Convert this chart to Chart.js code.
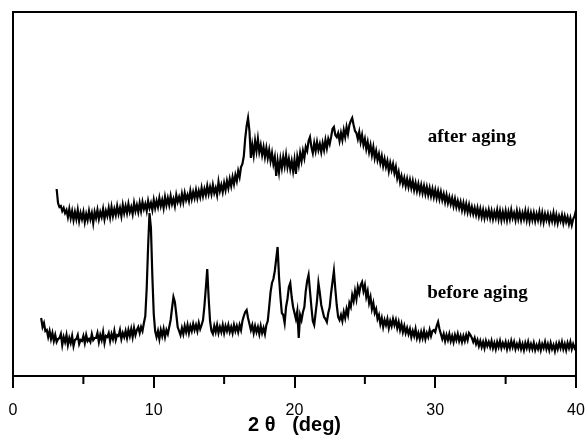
<!DOCTYPE html>
<html>
<head>
<meta charset="utf-8">
<script src="https://cdn.jsdelivr.net/npm/chart.js@4/dist/chart.umd.min.js"></script>
<style>
  html, body { margin: 0; padding: 0; background: #fff; }
  #wrap { width: 587px; height: 439px; }
</style>
</head>
<body>
<div id="wrap"><canvas id="chart"></canvas></div>
<script>
// 2 theta scan grid (deg)
var STEP = 0.1;
var beforeStart = 2.0;
var afterStart = 3.1;

// intensity (a.u.), one value per 0.1 deg
var beforeAging = [
  58, 49, 53, 45, 46, 39, 45, 37, 43, 35,   // 2.0
  41, 34, 37, 38, 42, 31, 39, 34, 41, 31,   // 3.0
  38, 33, 40, 30, 36, 37, 41, 32, 36, 35,   // 4.0
  40, 33, 41, 35, 37, 34, 42, 36, 38, 38,   // 5.0
  43, 34, 41, 36, 44, 33, 40, 39, 43, 35,   // 6.0
  42, 37, 45, 36, 41, 40, 46, 37, 43, 39,   // 7.0
  45, 38, 46, 40, 47, 39, 48, 41, 46, 49,   // 8.0
  43, 49, 45, 53, 60, 88, 130, 163, 148, 100, // 9.0
  62, 45, 39, 45, 37, 46, 40, 47, 39, 46,   // 10.0
  42, 49, 56, 68, 79, 74, 62, 49, 45, 41,   // 11.0
  48, 42, 50, 44, 51, 43, 50, 45, 52, 46,   // 12.0
  51, 45, 53, 47, 51, 56, 70, 88, 107, 78,  // 13.0
  55, 45, 42, 50, 44, 51, 43, 49, 44, 51,   // 14.0
  43, 50, 45, 51, 44, 49, 43, 51, 45, 50,   // 15.0
  44, 51, 46, 55, 60, 64, 66, 58, 52, 46,   // 16.0
  51, 43, 50, 44, 49, 42, 50, 43, 48, 42,   // 17.0
  51, 55, 69, 84, 93, 97, 105, 117, 129, 99, // 18.0
  79, 63, 61, 53, 69, 77, 89, 93, 79, 69,   // 19.0
  63, 57, 65, 38, 61, 56, 64, 69, 85, 95,   // 20.0
  101, 85, 69, 55, 51, 63, 75, 93, 83, 71,  // 21.0
  65, 59, 57, 54, 63, 69, 83, 94, 105, 87,  // 22.0
  71, 59, 56, 61, 55, 64, 58, 67, 61, 73,   // 23.0
  69, 81, 75, 85, 77, 89, 83, 91, 94, 85,   // 24.0
  91, 79, 85, 73, 79, 67, 73, 63, 67, 57,   // 25.0
  61, 52, 58, 49, 56, 51, 57, 48, 55, 50,   // 26.0
  57, 51, 56, 48, 54, 46, 52, 44, 50, 43,   // 27.0
  48, 42, 47, 39, 45, 40, 47, 38, 43, 37,   // 28.0
  44, 38, 45, 37, 43, 39, 46, 40, 45, 46,   // 29.0
  44, 50, 54, 47, 42, 37, 42, 35, 41, 36,   // 30.0
  42, 35, 40, 34, 41, 36, 42, 35, 40, 34,   // 31.0
  40, 35, 41, 36, 43, 41, 38, 34, 38, 32,   // 32.0
  36, 30, 35, 29, 34, 28, 35, 30, 34, 29,   // 33.0
  35, 28, 33, 27, 34, 29, 35, 28, 33, 29,   // 34.0
  34, 27, 33, 28, 35, 29, 34, 27, 32, 28,   // 35.0
  34, 27, 32, 26, 33, 28, 34, 27, 32, 27,   // 36.0
  33, 26, 31, 27, 33, 26, 32, 28, 34, 27,   // 37.0
  32, 26, 33, 27, 31, 25, 32, 27, 33, 28,   // 38.0
  34, 27, 32, 26, 33, 28, 34, 27, 32, 28,   // 39.0
  31                                        // 40.0
];

var afterAging = [
  187, 173, 169, 170, 165, 168, 163, 166, 159,        // 3.1
  167, 158, 165, 156, 164, 157, 166, 155, 163, 157,   // 4.0
  164, 154, 162, 156, 165, 157, 163, 153, 164, 158,   // 5.0
  166, 157, 164, 159, 167, 157, 165, 160, 168, 159,   // 6.0
  169, 160, 167, 161, 170, 162, 168, 160, 171, 163,   // 7.0
  170, 163, 172, 164, 169, 162, 173, 165, 171, 164,   // 8.0
  173, 165, 174, 167, 172, 165, 175, 168, 173, 166,   // 9.0
  176, 168, 175, 169, 178, 170, 176, 168, 179, 171,   // 10.0
  178, 171, 180, 172, 177, 170, 181, 174, 179, 173,   // 11.0
  182, 174, 183, 176, 181, 175, 185, 177, 184, 178,   // 12.0
  186, 178, 185, 179, 188, 180, 187, 181, 190, 182,   // 13.0
  189, 182, 191, 183, 188, 181, 194, 185, 191, 184,   // 14.0
  193, 186, 195, 188, 197, 190, 199, 192, 201, 195,   // 15.0
  205, 199, 209, 212, 220, 238, 250, 258, 245, 218,   // 16.0
  231, 221, 235, 225, 237, 224, 231, 221, 229, 219,   // 17.0
  228, 218, 226, 215, 223, 212, 219, 200, 215, 204,   // 18.0
  217, 208, 219, 210, 221, 209, 217, 207, 215, 205,   // 19.0
  216, 202, 219, 211, 223, 215, 225, 218, 229, 225,   // 20.0
  235, 239, 229, 223, 233, 225, 234, 226, 232, 224,   // 21.0
  233, 226, 236, 228, 237, 232, 239, 247, 249, 241,   // 22.0
  239, 243, 235, 243, 236, 246, 239, 249, 242, 251,   // 23.0
  255, 258, 251, 245, 243, 237, 244, 234, 241, 231,   // 24.0
  237, 227, 234, 224, 231, 221, 229, 218, 225, 216,   // 25.0
  222, 213, 220, 210, 217, 209, 215, 205, 213, 206,   // 26.0
  212, 203, 209, 198, 204, 194, 200, 192, 198, 190,   // 27.0
  197, 189, 196, 188, 195, 186, 193, 185, 192, 184,   // 28.0
  191, 183, 190, 182, 189, 181, 188, 180, 187, 179,   // 29.0
  186, 178, 185, 177, 184, 176, 182, 174, 181, 173,   // 30.0
  179, 172, 178, 170, 177, 169, 175, 168, 174, 166,   // 31.0
  173, 165, 172, 164, 171, 163, 169, 162, 168, 161,   // 32.0
  168, 160, 167, 159, 166, 158, 165, 159, 166, 158,   // 33.0
  165, 157, 164, 158, 166, 157, 165, 156, 164, 157,   // 34.0
  165, 156, 164, 157, 166, 158, 163, 156, 165, 157,   // 35.0
  164, 156, 163, 157, 165, 156, 164, 155, 163, 156,   // 36.0
  163, 155, 162, 156, 164, 155, 163, 154, 162, 156,   // 37.0
  162, 154, 161, 155, 163, 154, 161, 153, 160, 155,   // 38.0
  161, 153, 160, 154, 159, 152, 158, 151, 157, 160,   // 39.0
  166                                                 // 40.0
];

var xTicks = [0, 10, 20, 30, 40];
var minorTicks = [5, 15, 25, 35];
var curveLabels = ['after aging', 'before aging'];

function toPoints(start, values) {
  return values.map(function (v, i) {
    return { x: +(start + i * STEP).toFixed(1), y: v };
  });
}

// frame, minor ticks and the two curve labels
var decorations = {
  id: 'decorations',
  afterDraw: function (chart) {
    var ctx = chart.ctx;
    var a = chart.chartArea;
    var xs = chart.scales.x;
    var ys = chart.scales.y;
    ctx.save();
    ctx.strokeStyle = '#000';
    ctx.lineWidth = 2;
    ctx.beginPath();
    ctx.moveTo(a.left, a.bottom);
    ctx.lineTo(a.left, a.top);
    ctx.lineTo(a.right, a.top);
    ctx.lineTo(a.right, a.bottom);
    ctx.stroke();
    ctx.beginPath();
    minorTicks.forEach(function (t) {
      var px = xs.getPixelForValue(t);
      ctx.moveTo(px, a.bottom);
      ctx.lineTo(px, a.bottom + 8);
    });
    ctx.stroke();
    ctx.fillStyle = '#000';
    ctx.font = 'bold 19px "Liberation Serif", "Times New Roman", serif';
    ctx.textAlign = 'center';
    ctx.textBaseline = 'middle';
    ctx.fillText(curveLabels[0], xs.getPixelForValue(32.6), ys.getPixelForValue(239));
    ctx.fillText(curveLabels[1], xs.getPixelForValue(33.0), ys.getPixelForValue(83));
    ctx.restore();
  }
};

var ctx = document.getElementById('chart').getContext('2d');
var myChart = new Chart(ctx, {
  type: 'line',
  data: {
    datasets: [{
      label: curveLabels[0],
      data: toPoints(afterStart, afterAging),
      borderColor: '#000',
      borderWidth: 2.2,
      pointRadius: 0,
      tension: 0
    }, {
      label: curveLabels[1],
      data: toPoints(beforeStart, beforeAging),
      borderColor: '#000',
      borderWidth: 2.2,
      pointRadius: 0,
      tension: 0
    }]
  },
  options: {
    responsive: true,
    maintainAspectRatio: false,
    animation: false,
    layout: { padding: { left: 13, right: 11, top: 12, bottom: 2 } },
    plugins: {
      legend: { display: false },
      tooltip: { enabled: false }
    },
    scales: {
      x: {
        type: 'linear',
        min: 0,
        max: 40,
        afterBuildTicks: function (scale) {
          scale.ticks = xTicks.map(function (v) { return { value: v }; });
        },
        afterFit: function (scale) {
          scale.height = 61;
          scale.paddingLeft = 0;
          scale.paddingRight = 0;
        },
        ticks: {
          color: '#000',
          padding: 15,
          maxRotation: 0,
          font: { family: '"Liberation Sans", Arial, sans-serif', size: 16, lineHeight: 1 }
        },
        grid: {
          drawOnChartArea: false,
          drawTicks: true,
          tickLength: 12,
          color: '#000',
          lineWidth: 2
        },
        border: { display: true, color: '#000', width: 2 },
        title: {
          display: true,
          text: '2 θ   (deg)',
          color: '#000',
          padding: { top: 4, bottom: 2 },
          font: { family: '"Liberation Sans", Arial, sans-serif', size: 20, weight: 'bold', lineHeight: 1 }
        }
      },
      y: {
        display: false,
        min: 0,
        max: 364
      }
    }
  },
  plugins: [decorations]
});
</script>
</body>
</html>
